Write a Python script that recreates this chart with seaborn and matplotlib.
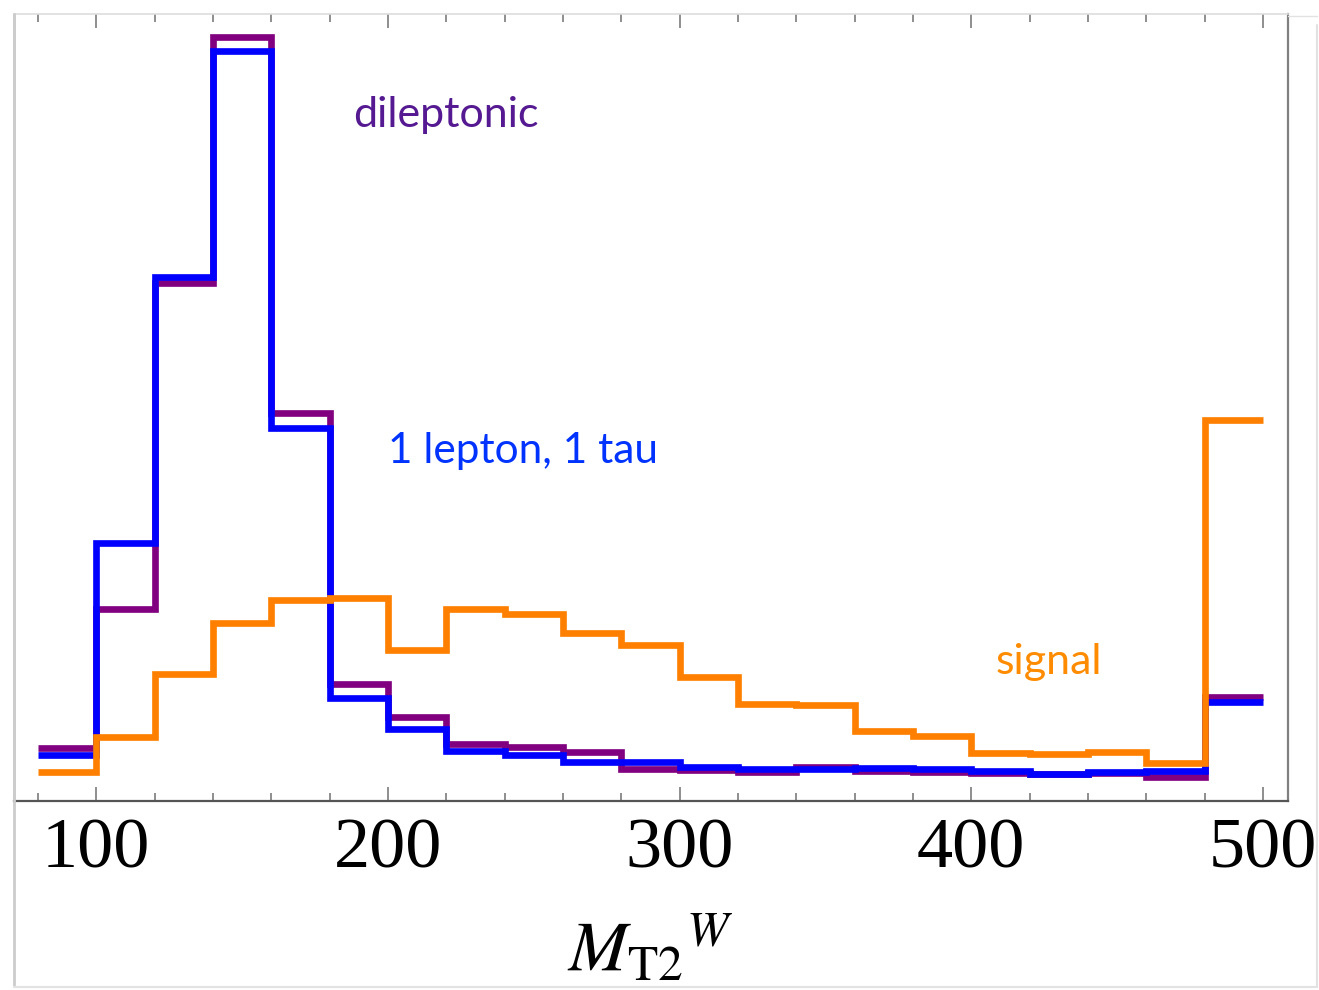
import numpy as np
import pandas as pd
import matplotlib
matplotlib.use("Agg")
import matplotlib.pyplot as plt
import matplotlib.lines as mlines
from matplotlib.ticker import MultipleLocator
import seaborn as sns

# bin edges of the M_T2^W histogram (GeV), last bin is the overflow bin
edges = list(range(80, 520, 20))
centers = [e + 10 for e in edges[:-1]]

# bin heights (arbitrary units)
dileptonic = [53, 192, 517, 763, 388, 117, 84, 57, 54, 49, 32,
              31, 29, 34, 30, 29, 28, 27, 28, 24, 104]
lepton_tau = [46, 258, 523, 749, 373, 103, 72, 50, 46, 39, 39,
              34, 32, 32, 33, 32, 30, 27, 29, 30, 99]
signal = [29, 64, 127, 178, 201, 203, 151, 192, 187, 168, 156,
          124, 97, 96, 70, 65, 48, 47, 49, 38, 381]

major_ticks = [100, 200, 300, 400, 500]

sns.set_style("white")
plt.rcParams['font.family'] = ['Lato', 'DejaVu Sans']
plt.rcParams['mathtext.fontset'] = 'stix'

W, H = 1319, 990
fig = plt.figure(figsize=(W / 100, H / 100), dpi=100)
ax = fig.add_axes([14 / W, (H - 801) / H, (1288 - 14) / W, (801 - 14) / H])

line_kw = dict(element="step", fill=False, linewidth=4.8,
               solid_joinstyle="miter", solid_capstyle="butt")
series = [(dileptonic, "#800080"), (lepton_tau, "#0000ff"), (signal, "#ff8000")]
for values, col in series:
    df = pd.DataFrame({"mt2w": centers, "w": values})
    sns.histplot(data=df, x="mt2w", weights="w", bins=edges, color=col, ax=ax, **line_kw)

ax.set_xlim(71.8, 508.6)
ax.set_ylim(0, 786)
ax.set_ylabel("")
ax.set_xlabel("")
ax.set_yticks([])

ax.xaxis.set_major_locator(MultipleLocator(100))
ax.xaxis.set_minor_locator(MultipleLocator(20))
ax.set_xticks(major_ticks)
ax.set_xticklabels([str(t) for t in major_ticks], family="Liberation Serif",
                   fontsize=52, color="black")
ax.tick_params(axis="x", which="both", direction="in", top=True, bottom=True,
               color="#707070", width=1.1, pad=12, labelcolor="black")
ax.tick_params(axis="x", which="major", length=10)
ax.tick_params(axis="x", which="minor", length=6)

for side, col, lw in [("bottom", "#555555", 1.6), ("right", "#808080", 1.6),
                      ("top", "#dddddd", 1.2), ("left", "#cccccc", 2.0)]:
    ax.spines[side].set_visible(True)
    ax.spines[side].set_color(col)
    ax.spines[side].set_linewidth(lw)

# curve labels
ax.text(188, 673, "dileptonic", color="#551991", fontsize=31, va="baseline", ha="left")
ax.text(200, 338, "1 lepton, 1 tau", color="#0033ff", fontsize=30.5, va="baseline", ha="left")
ax.text(408.5, 127, "signal", color="#ff8c00", fontsize=31, va="baseline", ha="left")

# axis title
fig.text(567 / W, 18 / H, r"$M_{\mathrm{T2}}{}^{W}$", fontsize=51, color="black",
         ha="left", va="baseline")

# faint outer frame of the graphic
frame_col = "#e2e2e2"
fig.add_artist(mlines.Line2D([14 / W, 14 / W], [(H - 985) / H, (H - 14) / H],
                             transform=fig.transFigure, color="#cccccc", lw=2.0))
fig.add_artist(mlines.Line2D([1316.5 / W, 1316.5 / W], [(H - 987) / H, (H - 25) / H],
                             transform=fig.transFigure, color=frame_col, lw=1.5))
fig.add_artist(mlines.Line2D([14 / W, 1316.5 / W], [(H - 987) / H, (H - 987) / H],
                             transform=fig.transFigure, color=frame_col, lw=1.5))
fig.add_artist(mlines.Line2D([1288 / W, 1316.5 / W], [(H - 16) / H, (H - 16) / H],
                             transform=fig.transFigure, color=frame_col, lw=1.0))

fig.savefig("out.png", dpi=100)
